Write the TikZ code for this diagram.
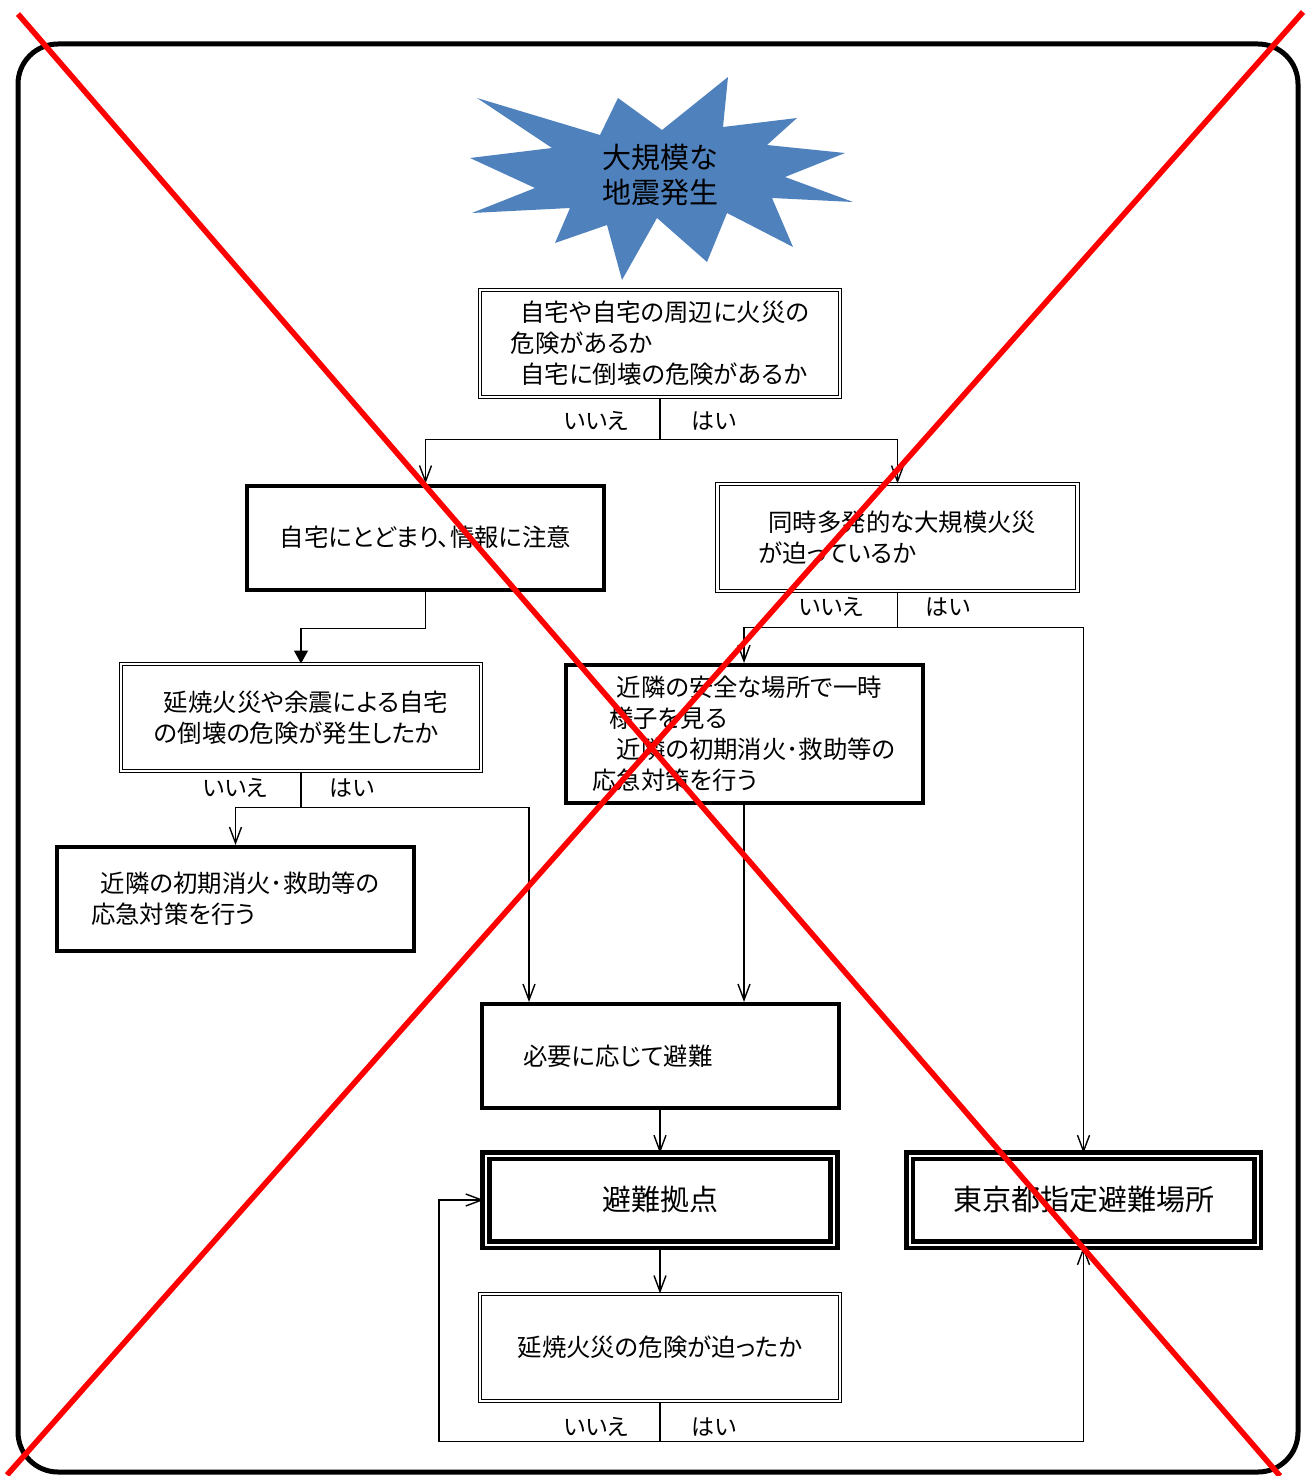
\documentclass[tikz,border=0pt]{standalone}
\usepackage{fontspec}
\usepackage{xcolor}
\usepackage{tikz}
\usetikzlibrary{arrows.meta, positioning, calc}
\newfontfamily\jpfont[RawFeature=+palt]{Noto Sans CJK JP}
\definecolor{burstblue}{HTML}{4F81BD}

\begin{document}
\begin{tikzpicture}[
    x=0.5pt, y=-0.5pt,
    base/.style = {
        rectangle, inner sep=0pt, align=left,
        font=\jpfont\fontsize{12.2}{15.5}\selectfont
    },
    askbox/.style  = {base, draw, line width=0.5pt, double, double distance=1.2pt,
                      minimum width=180pt, minimum height=53.5pt},
    actbox/.style  = {base, draw, line width=2pt, minimum width=178.5pt, minimum height=52pt},
    goalbox/.style = {base, draw, line width=2.3pt, double, double distance=1pt,
                      minimum width=174pt, minimum height=44.5pt,
                      font=\jpfont\fontsize{14.5}{17}\selectfont},
    answer/.style  = {font=\jpfont\fontsize{11.5}{14}\selectfont, inner sep=0pt},
    arr/.style = {-{Straight Barb[length=8pt, width=6pt]}, line width=0.7pt, black},
    tri/.style = {-{Triangle[length=6.5pt, width=7pt]}, line width=0.7pt, black}
]
\useasboundingbox (0,0) rectangle (1310,1476);
\draw[line width=2.5pt, rounded corners=20pt] (18,44) rectangle (1298,1472);

% start
\fill[burstblue] (477,98) -- (600,135) -- (618,98) -- (662,130) -- (728,77) -- (723,127)
    -- (797,118) -- (767,145) -- (845,153) -- (785,177) -- (853,202) -- (772,198)
    -- (793,247) -- (727,213) -- (707,262) -- (657,218) -- (622,280) -- (607,225)
    -- (555,243) -- (570,208) -- (472,213) -- (535,188) -- (470,158) -- (552,148) -- cycle;
\node[base, align=center, font=\jpfont\fontsize{14.5}{17.5}\selectfont] (quake) at (660,175)
    {大規模な\\地震発生};

% boxes
\node[askbox] (risk) at (660,343.5)
    {\hspace*{0.4em}自宅や自宅の周辺に火災の\\危険があるか\\\hspace*{0.4em}自宅に倒壊の危険があるか};
\node[actbox] (stay) at (425.5,537.5) {自宅にとどまり、情報に注意};
\node[askbox] (fire) at (897.5,537.5)
    {\hspace*{0.4em}同時多発的な大規模火災\\が迫っているか};
\node[askbox] (collapse) at (301,717.5)
    {\hspace*{0.4em}延焼火災や余震による自宅\\の倒壊の危険が発生したか};
\node[actbox] (local) at (235.5,899)
    {\hspace*{0.4em}近隣の初期消火･救助等の\\応急対策を行う};
\node[actbox, minimum height=69pt] (wait) at (744,734)
    {\hspace*{1em}近隣の安全な場所で一時\\\hspace*{0.7em}様子を見る\\\hspace*{1em}近隣の初期消火･救助等の\\応急対策を行う};
\node[actbox] (need) at (660,1056) {必要に応じて避難\hspace*{42pt}};
\node[goalbox] (hub) at (660,1200) {避難拠点};
\node[goalbox] (tokyo) at (1083.5,1200) {東京都指定避難場所};
\node[askbox] (spread) at (660,1347.5) {延焼火災の危険が迫ったか};

% answers
\node[answer] (no1)  at (596,421)  {いいえ};
\node[answer] (yes1) at (714,421)  {はい};
\node[answer] (no2)  at (831,607)  {いいえ};
\node[answer] (yes2) at (948,607)  {はい};
\node[answer] (no3)  at (235,788)  {いいえ};
\node[answer] (yes3) at (352,788)  {はい};
\node[answer] (no4)  at (596,1427) {いいえ};
\node[answer] (yes4) at (714,1427) {はい};

% connectors
\draw[arr] (risk.south) -- ++(0,42) -| (stay.north);
\draw[arr] (risk.south) -- ++(0,42) -| (fire.north);
\draw[tri] (stay.south) -- ++(0,37) -| (collapse.north);
\draw[arr] (fire.south) -- ++(0,36) -| (wait.north);
\draw[arr] (fire.south) -- ++(0,36) -| (tokyo.north);
\draw[arr] (collapse.south) -- ++(0,36) -| (local.north);
\draw[arr] (collapse.south) -- ++(0,36) -| ([xshift=-65.5pt]need.north);
\draw[arr] (wait.south) -- (wait.south |- need.north);
\draw[arr] (need) -- (hub);
\draw[arr] (hub) -- (spread);
\draw[arr] (spread.south) -- ++(0,40) -- ++(-221,0) |- (hub.west);
\draw[arr] (spread.south) -- ++(0,40) -| (tokyo.south);

% cross
\draw[red, line width=2.8pt] (18,14) -- (1280,1476);
\draw[red, line width=2.8pt] (1303,12) -- (7,1475);
\end{tikzpicture}
\end{document}
